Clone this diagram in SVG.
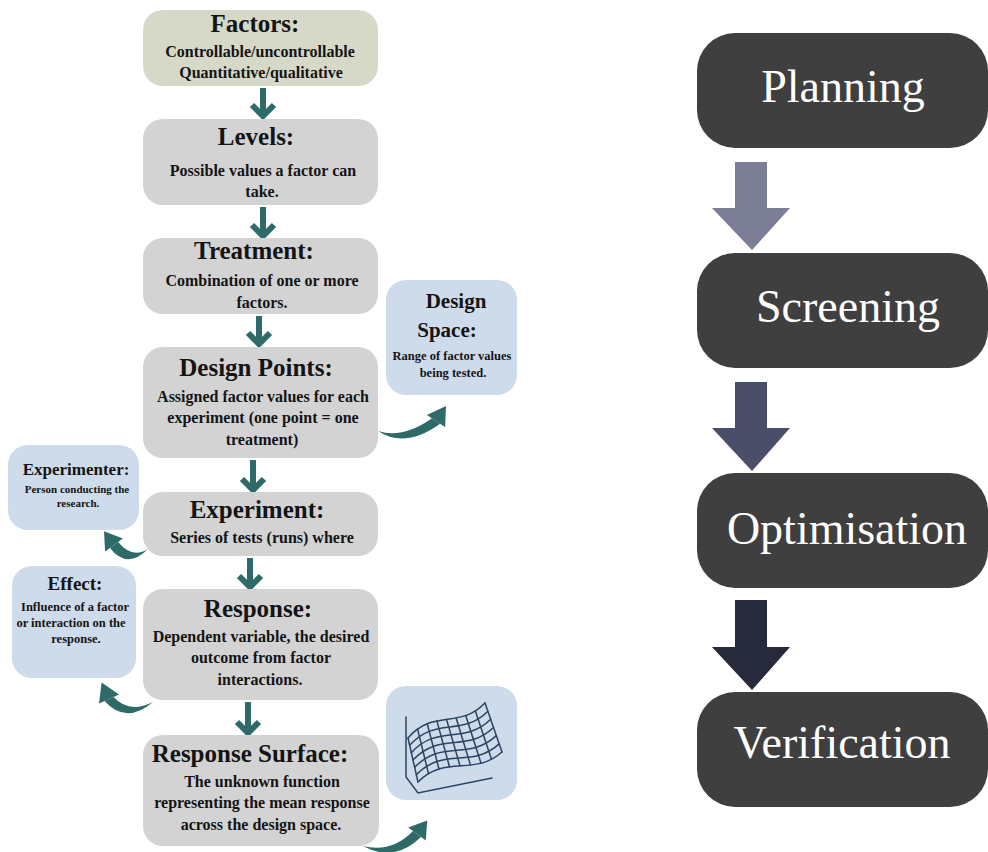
<svg xmlns="http://www.w3.org/2000/svg" width="988" height="852" viewBox="0 0 988 852">
  <style>
    .gray { fill: #d3d3d3; }
    .olive { fill: #d7d9c8; }
    .blue { fill: #cedbea; }
    .dark { fill: #3f3f3f; }
    .t { font-family: "Liberation Serif", "Times New Roman", serif; font-weight: bold; fill: #141414; text-anchor: middle; }
    .h { font-size: 25px; }
    .b { font-size: 16px; }
    .stage { font-family: "Liberation Serif", "Times New Roman", serif; font-size: 46px; fill: #ffffff; text-anchor: middle; }
    .flow { stroke: #2e6a67; stroke-width: 6; fill: none; stroke-linejoin: miter; }
    .curve { fill: #2e6a67; }
    .mesh { stroke: #2b4462; stroke-width: 1.5; fill: none; stroke-linecap: round; }
  </style>

  <rect width="988" height="852" fill="#ffffff"/>

  <!-- connectors -->
  <g id="connectors">
    <!-- straight downward arrows of the left chain -->
    <path class="flow" d="M263,88 V115 M252,105 L263,116 L274,105"/>
    <path class="flow" d="M263,207 V235 M252,225 L263,236 L274,225"/>
    <path class="flow" d="M259,316 V343 M248,333 L259,344 L270,333"/>
    <path class="flow" d="M253,460 V489 M242,479 L253,490 L264,479"/>
    <path class="flow" d="M250,558 V586 M239,576 L250,587 L261,576"/>
    <path class="flow" d="M248,702 V732 M237,722 L248,733 L259,722"/>

    <!-- curved side arrows -->
    <g id="to-design-space">
      <path class="curve" d="M378,431 Q405,449 440.2,423.8 L431.9,418.3 Q403,439 378,431 Z"/>
      <polygon class="curve" points="445.1,427.1 446,406 426.9,415"/>
    </g>
    <g id="to-experimenter">
      <path class="curve" d="M148,549 Q127,570 110,548 L118.1,542.1 Q132,559 148,549 Z"/>
      <polygon class="curve" points="122.9,538.5 104,531.2 105.1,551.5"/>
    </g>
    <g id="to-effect">
      <path class="curve" d="M153,702 Q126,725 104.5,701 L113.6,697 Q129,714 153,702 Z"/>
      <polygon class="curve" points="119,694.5 101.6,682.6 99,703.5"/>
    </g>
    <g id="to-surface-plot">
      <path class="curve" d="M363,846 Q394,863 421,837 L413,831 Q392,853 363,846 Z"/>
      <polygon class="curve" points="425.8,840.6 427.2,820.4 408.2,827.4"/>
    </g>

    <!-- block arrows between the stages -->
    <polygon fill="#7b7e94" points="735,162 767,162 767,208 790,208 752,250 712,208 735,208"/>
    <polygon fill="#4b4e68" points="735,382 767,382 767,428 790,428 752,471 712,428 735,428"/>
    <polygon fill="#262a3a" points="735,600 767,600 767,647 790,647 752,690 712,647 735,647"/>
  </g>

  <!-- left chain -->
  <g id="factors">
    <rect class="olive" x="143" y="10" width="235" height="76" rx="20"/>
    <text class="t h" x="255" y="32">Factors:</text>
    <text class="t b" x="260" y="57">Controllable/uncontrollable</text>
    <text class="t b" x="261" y="78">Quantitative/qualitative</text>
  </g>

  <g id="levels">
    <rect class="gray" x="143" y="119" width="235" height="86" rx="20"/>
    <text class="t h" x="256" y="145">Levels:</text>
    <text class="t b" x="263" y="176">Possible values a factor can</text>
    <text class="t b" x="262" y="197">take.</text>
  </g>

  <g id="treatment">
    <rect class="gray" x="143" y="238" width="235" height="76" rx="20"/>
    <text class="t h" x="254" y="259">Treatment:</text>
    <text class="t b" x="262" y="286">Combination of one or more</text>
    <text class="t b" x="262" y="308">factors.</text>
  </g>

  <g id="design-points">
    <rect class="gray" x="143" y="347" width="235" height="111" rx="20"/>
    <text class="t h" x="256" y="376">Design Points:</text>
    <text class="t b" x="263" y="402">Assigned factor values for each</text>
    <text class="t b" x="263" y="423">experiment (one point = one</text>
    <text class="t b" x="262" y="445">treatment)</text>
  </g>

  <g id="experiment">
    <rect class="gray" x="143" y="492" width="235" height="64" rx="20"/>
    <text class="t h" x="257" y="518">Experiment:</text>
    <text class="t b" x="262" y="543">Series of tests (runs) where</text>
  </g>

  <g id="response">
    <rect class="gray" x="143" y="589" width="235" height="111" rx="20"/>
    <text class="t h" x="258" y="617">Response:</text>
    <text class="t b" x="261" y="642">Dependent variable, the desired</text>
    <text class="t b" x="261" y="663">outcome from factor</text>
    <text class="t b" x="260" y="685">interactions.</text>
  </g>

  <g id="response-surface">
    <rect class="gray" x="143" y="735" width="236" height="111" rx="20"/>
    <text class="t h" x="250" y="762">Response Surface:</text>
    <text class="t b" x="262" y="787">The unknown function</text>
    <text class="t b" x="262" y="808">representing the mean response</text>
    <text class="t b" x="261" y="830">across the design space.</text>
  </g>

  <!-- side notes -->
  <g id="design-space">
    <rect class="blue" x="386" y="280" width="131" height="115" rx="20"/>
    <text class="t" x="456" y="308" font-size="21">Design</text>
    <text class="t" x="447" y="337" font-size="21">Space:</text>
    <text class="t" x="452" y="360" font-size="12.5">Range of factor values</text>
    <text class="t" x="453" y="377" font-size="12.5">being tested.</text>
  </g>

  <g id="experimenter">
    <rect class="blue" x="8" y="445" width="131" height="85" rx="20"/>
    <text class="t" x="76" y="475" font-size="17">Experimenter:</text>
    <text class="t" x="77" y="493" font-size="11">Person conducting the</text>
    <text class="t" x="78" y="507" font-size="11">research.</text>
  </g>

  <g id="effect">
    <rect class="blue" x="12" y="566" width="124" height="112" rx="20"/>
    <text class="t" x="75" y="590" font-size="19">Effect:</text>
    <text class="t" x="75" y="611" font-size="12.5">Influence of a factor</text>
    <text class="t" x="71" y="627" font-size="12.5">or interaction on the</text>
    <text class="t" x="76" y="643" font-size="12.5">response.</text>
  </g>

  <g id="surface-plot">
    <rect class="blue" x="386" y="686" width="131" height="114" rx="20"/>
    <!-- axes -->
    <path class="mesh" d="M406,717 V777 L418,793 L492,778"/>
    <!-- grid rows -->
    <path class="mesh" d="M408,738 C433.67,708.33 459.33,729.67 485,703"/>
    <path class="mesh" d="M409.67,745.33 C435.72,715.94 461.78,737.56 487.83,711.17"/>
    <path class="mesh" d="M411.33,752.67 C437.78,723.56 464.22,745.44 490.67,719.33"/>
    <path class="mesh" d="M413,760 C439.83,731.17 466.67,753.33 493.5,727.5"/>
    <path class="mesh" d="M414.67,767.33 C441.89,738.78 469.11,761.22 496.33,735.67"/>
    <path class="mesh" d="M416.33,774.67 C443.94,746.39 471.56,769.11 499.17,743.83"/>
    <path class="mesh" d="M418,782 C446,754 474,777 502,752"/>
    <!-- grid columns -->
    <path class="mesh" d="M408,738 L418,782"/>
    <path class="mesh" d="M417.63,729.07 L428.5,773.69"/>
    <path class="mesh" d="M427.25,723.76 L439,769.01"/>
    <path class="mesh" d="M436.88,720.92 L449.5,766.79"/>
    <path class="mesh" d="M446.5,719.37 L460,765.87"/>
    <path class="mesh" d="M456.13,717.98 L470.5,765.1"/>
    <path class="mesh" d="M465.75,715.55 L481,763.3"/>
    <path class="mesh" d="M475.38,710.95 L491.5,759.32"/>
    <path class="mesh" d="M485,703 L502,752"/>
  </g>

  <!-- stages -->
  <g id="planning">
    <rect class="dark" x="697" y="33" width="291" height="115" rx="38"/>
    <text class="stage" x="843" y="102">Planning</text>
  </g>
  <g id="screening">
    <rect class="dark" x="697" y="253" width="291" height="115" rx="38"/>
    <text class="stage" x="848" y="322">Screening</text>
  </g>
  <g id="optimisation">
    <rect class="dark" x="697" y="473" width="291" height="115" rx="38"/>
    <text class="stage" x="847" y="544">Optimisation</text>
  </g>
  <g id="verification">
    <rect class="dark" x="697" y="692" width="291" height="115" rx="38"/>
    <text class="stage" x="842" y="758">Verification</text>
  </g>
</svg>
